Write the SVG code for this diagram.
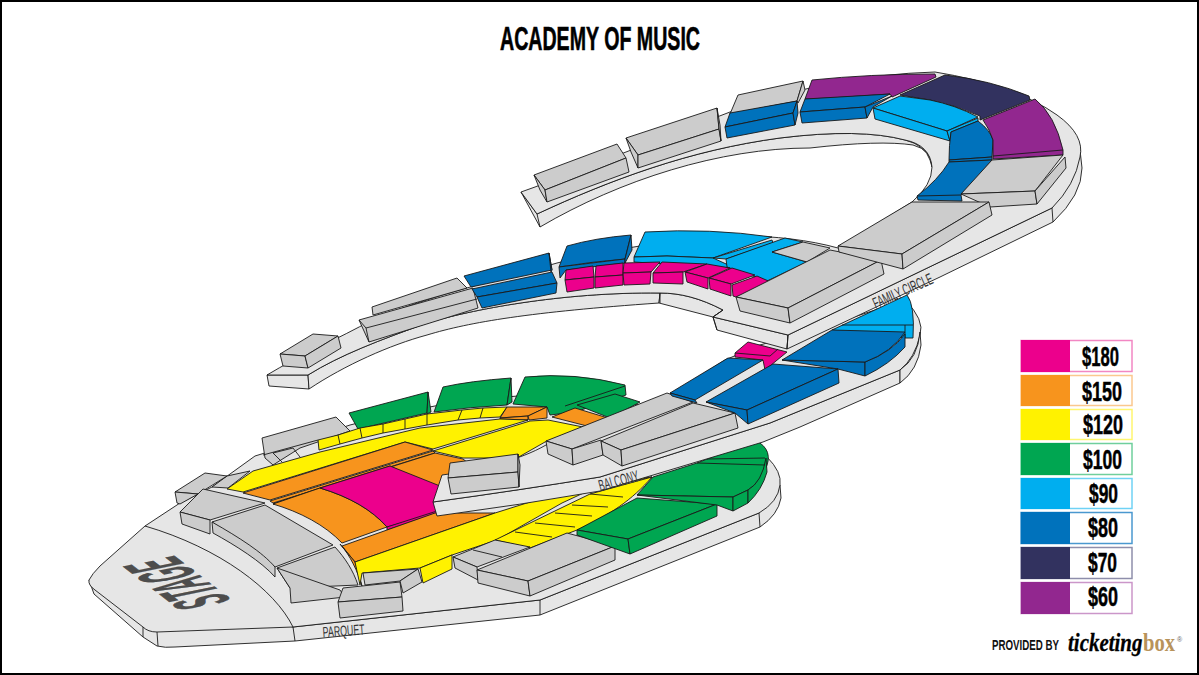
<svg xmlns="http://www.w3.org/2000/svg" width="1199" height="675" viewBox="0 0 1199 675">
<style>
path,polygon{stroke:#1a1a1a;stroke-width:.9;stroke-linejoin:round}
.fl{fill:#e6e6e6}.gr{fill:#ccc}.m{fill:#ec008c}.o{fill:#f7941d}.y{fill:#fff200}.g{fill:#00a651}.c{fill:#00aeef}.b{fill:#0072bc}.n{fill:#32325f}.p{fill:#92278f}
.ln{fill:none}
.lab{font-family:"Liberation Sans Narrow","Liberation Sans",Arial,sans-serif;fill:#333;text-anchor:middle}
.pr{font-family:"Liberation Sans Narrow","Liberation Sans",Arial,sans-serif;font-weight:700;font-size:28px;fill:#000;stroke:#000;stroke-width:.5}
rect.k{stroke-width:1.5}
</style>
<rect x="1" y="1" width="1197" height="673" fill="#fff" stroke="#000" stroke-width="2"/>
<text x="500" y="50" font-family="'Liberation Sans Narrow','Liberation Sans',Arial,sans-serif" font-weight="700" font-size="34" textLength="200" lengthAdjust="spacingAndGlyphs" fill="#000" stroke="#000" stroke-width=".6">ACADEMY OF MUSIC</text>

<g id="parquet">
<path class="fl" d="M89,580 L94,594 L143,637 L157,646 Q165,648 175,647 L295,641 L540,615 L760,527 Q778,515 781,498 L780,485 L759,513 L540,600 L293,627 Z"/>
<path class="fl" d="M89,580 Q92,574 100,566 L145,526 L180,503 L212,487 L255,456 L268,452 L350,425 Q440,400 530,395 Q680,395 767,457 Q782,472 780,485 Q778,502 759,513 L540,600 L293,627 L157,632 Q148,632 143,627 L95,590 Q88,585 89,580 Z"/>
<path class="ln" d="M145,526 C220,548 275,590 293,627 M293,627 L295,641 M143,627 L143,637 M157,632 L158,646 M759,513 L760,527 M540,600 L540,615"/>
<g id="parquet-back">
<path class="gr" d="M262,438 L336,417 L350,431 L300,448 L273,465 L265,458 Z"/>
<path class="ln" d="M263,455 L318,440 M273,453 L293,448 L300,457 M273,453 L282,462"/>
<polygon class="g" points="349,413 428,392 427,413 358,429"/>
<polygon class="g" points="428,392 431,412 427,414"/>
<path class="g" d="M443,387 Q470,381 511,378 L507,405 Q470,407 434,412 Z"/>
<polygon class="g" points="511,378 512,402 507,405"/>
<path class="g" d="M525,377 Q575,372 625,385 L626,395 L575,412 L550,415 L547,407 L513,404 Z"/>
<polygon class="g" points="577,405 615,394 640,402 610,418"/>
<path class="ln" d="M565,406 L625,386"/>
<polygon class="o" points="552,417 575,408 608,418 587,426"/>
</g>
<g id="parquet-row">
<path class="y" d="M318,440 L338,435 L360,428 L383,424 L405,419 L427,414 L462,410 L483,408 L507,407 L500,417 L480,418 L458,420 L427,425 L405,429 L383,433 L362,438 L340,444 L319,450 Z"/>
<path class="ln" d="M338,435 L340,444 M360,428 L362,438 M383,424 L383,433 M405,419 L405,429 M427,414 L427,425 M462,410 L458,420 M483,408 L480,418"/>
<polygon class="o" points="500,418 507,407 547,407 528,416"/>
<polygon class="o" points="500,418 528,416 528,420 500,419"/>
<polygon class="o" points="528,416 547,407 547,418 529,420"/>
</g>
<g id="parquet-main">
<polygon class="gr" points="212,487 227,476 250,471 228,488"/>
<path class="y" d="M227,489 L253,471 L320,452 L420,428 L500,419 L528,420 L433,449 L405,442 L243,492 Z"/>
<polygon class="y" points="433,451 530,421 548,420 583,427 545,442 517,458 463,458"/>
<path class="o" d="M243,493 L405,442 L433,450 L270,500 Z"/>
<polygon class="o" points="270,501 433,451 435,453 273,503"/>
<path class="o" d="M273,504 L435,453 L463,459 L490,480 L440,490 L390,466 L320,488 Z"/>
<path class="o" d="M273,504 L320,488 C350,497 372,510 387,527 L342,543 C325,525 300,512 273,504 Z"/>
<path class="m" d="M320,488 L390,466 L445,488 L440,512 L387,527 C372,510 350,497 320,488 Z"/>
<polygon class="m" points="387,527 437,511 437,513 387,530"/>
<polygon class="o" points="342,546 387,530 435,513 495,513 355,562"/>
<path class="o" d="M340,544 C350,555 358,572 362,586 L355,562 Z"/>
<path class="y" d="M355,562 L495,513 L600,480 L652,477 L590,490 L562,503 L497,540 L452,555 L420,568 L362,573 L360,585 Z"/>
<polygon class="y" points="420,568 452,555 452,569 423,583"/>
<path class="y" d="M652,477 C632,500 610,515 577,530 L530,548 L495,540 L590,494 Z"/>
<path class="ln" d="M590,494 L623,497 M572,505 L608,507 M555,513 L592,516 M535,523 L575,527 M515,532 L552,537"/>
</g>
<g id="parquet-seats">
<polygon class="gr" points="175,492 205,473 227,476 198,494"/>
<polygon class="gr" points="175,492 198,494 180,504 177,503"/>
<polygon class="gr" points="180,512 203,489 265,503 210,520"/>
<polygon class="gr" points="180,512 210,520 210,534 182,524"/>
<polygon class="gr" points="212,522 265,505 333,545 275,567"/>
<path class="gr" d="M212,522 C240,538 262,552 275,567 L275,577 C262,562 235,545 213,533 Z"/>
<path class="gr" d="M277,568 L335,547 C345,558 353,570 358,585 L290,588 Z"/>
<polygon class="gr" points="277,568 290,588 291,603 345,597 340,590"/>
<polygon class="gr" points="363,573 418,569 400,581 365,585"/>
<polygon class="gr" points="418,569 422,582 403,593 400,581"/>
<polygon class="gr" points="338,602 343,588 400,582 402,597"/>
<polygon class="gr" points="338,602 402,597 403,611 340,618"/>
<polygon class="gr" points="453,557 495,540 530,547 477,567"/>
<polygon class="gr" points="453,557 477,567 478,580 455,568"/>
<path class="ln" d="M473,550 L502,557"/>
<polygon class="gr" points="477,570 567,533 615,546 528,581"/>
<polygon class="gr" points="477,570 528,581 530,596 478,583"/>
<polygon class="gr" points="528,581 615,546 615,560 530,596"/>
<polygon class="g" points="577,530 637,498 717,504 628,539"/>
<polygon class="g" points="577,530 628,539 630,554 577,535"/>
<polygon class="g" points="628,539 717,504 717,516 630,554"/>
<path class="g" d="M637,495 L653,477 L697,463 L755,440 Q775,450 765,470 Q760,482 748,490 L733,497 Z"/>
<polygon class="g" points="637,495 733,497 733,511 717,505"/>
<polygon class="g" points="733,497 748,490 748,503 733,511"/>
<path class="g" d="M748,490 Q762,482 766,458 L767,472 Q762,490 748,503 Z"/>
<path class="ln" d="M707,459 L765,458 M697,463 L765,465"/>
</g>
</g>

<g id="balcony">
<path class="fl" d="M437,516 L433,502 Q520,490 600,477 L770,423 L900,370 L900,383 L800,427 L763,442 L600,491 Q520,505 437,516 Z"/>
<path class="fl" d="M433,502 L442,475 C480,470 520,460 546,445 L670,395 L725,360 L760,345 L830,325 L905,300 Q925,320 920,335 Q915,358 900,370 L770,423 L600,477 Q520,490 433,502 Z"/>
<path class="fl" d="M900,370 Q918,358 920,332 L921,345 Q918,370 900,383 Z"/>
<path class="c" d="M832,330 L907,295 Q915,305 913,338 L905,338 Z"/>
<path class="ln" d="M842,325 L913,325 M905,325 L905,338"/>
<path class="b" d="M782,360 L865,362 L865,376 L838,369 Z"/>
<path class="b" d="M865,362 Q892,352 905,334 L905,347 Q890,364 865,376 Z"/>
<path class="b" d="M782,360 L832,330 L905,332 Q892,352 865,362 Z"/>
<polygon class="m" points="735,353 748,342 787,352 765,370 763,360 735,357"/>
<path class="ln" d="M735,353 L770,356 L778,349"/>
<polygon class="gr" points="450,463 518,454 518,472 448,478"/>
<polygon class="gr" points="448,478 518,472 519,487 451,494"/>
<polygon class="gr" points="518,454 520,465 519,487 518,472"/>
<polygon class="gr" points="546,441 667,393 693,402 572,449"/>
<polygon class="gr" points="546,441 572,449 573,465 548,454"/>
<polygon class="gr" points="572,449 601,440 603,455 573,465"/>
<polygon class="gr" points="601,441 693,403 735,413 621,450"/>
<polygon class="gr" points="601,441 621,450 622,466 603,455"/>
<polygon class="gr" points="621,450 735,413 738,428 622,466"/>
<polygon class="b" points="670,393 728,358 763,360 695,400"/>
<polygon class="b" points="670,393 695,400 697,403 672,396"/>
<polygon class="b" points="706,402 773,364 838,369 747,410"/>
<polygon class="b" points="706,402 747,410 748,424 735,413"/>
<polygon class="b" points="747,410 838,369 839,383 748,424"/>
<text class="lab" transform="translate(620,486) rotate(-15)" font-size="16" textLength="41" lengthAdjust="spacingAndGlyphs">BALCONY</text>
</g>

<g id="family-circle">
<polygon class="fl" points="267,375 269,386 309,389 308,375"/>
<path class="fl" d="M308,375 C340,355 380,340 427,323 C470,310 560,292 660,293 L659,303 C530,312 470,322 427,335 C390,345 345,365 309,389 Z"/>
<path class="fl" d="M660,293 C680,293 700,298 723,310 L713,317 L659,303 Z"/>
<polygon class="fl" points="713,317 717,330 787,349 788,335"/>
<path class="fl" d="M788,335 L787,349 L940,277 L1053,222 Q1082,195 1082,168 L1080,150 L1052,208 Z"/>
<path class="fl" d="M521,192 L540,227 C620,180 720,148 810,148 Q880,140 913,145 Q932,150 932,167 L930,160 Q925,145 905,140 Q860,128 780,138 C690,150 610,180 537,214 Z"/>
<path class="fl" d="M267,375 C300,355 340,338 372,320 C430,295 500,280 557,263 C590,255 615,250 640,246 C700,232 780,232 838,248 L912,202 Q932,185 932,167 Q930,145 905,140 Q860,128 780,138 C690,150 610,180 537,214 L521,192 L535,187 L730,112 Q830,75 935,72 Q1015,85 1057,115 Q1085,135 1080,157 Q1075,185 1052,208 L788,335 L713,317 L723,310 C700,298 680,293 660,293 C560,292 470,310 427,323 C380,340 340,355 308,375 Z"/>
<path class="ln" d="M1052,208 L1053,222 M660,293 L660,303 M723,310 L713,317 M788,335 L787,349 M713,317 L717,330 M537,214 L540,227"/>
<g id="family-mid">
<polygon class="gr" points="280,354 313,334 338,336 305,356"/>
<polygon class="gr" points="280,354 305,356 308,368 283,366"/>
<polygon class="gr" points="305,356 338,336 341,348 308,368"/>
<polygon class="gr" points="372,307 457,278 467,288 373,315"/>
<polygon class="gr" points="359,320 473,288 478,308 369,342"/>
<path class="ln" d="M366,328 L477,299 M359,320 L366,328 L369,342"/>
<polygon class="b" points="464,276 549,253 552,270 471,287"/>
<polygon class="b" points="549,253 551,272 552,270"/>
<polygon class="b" points="472,289 552,272 557,283 477,297"/>
<polygon class="b" points="477,297 557,283 556,293 482,308"/>
<path class="b" d="M567,246 Q595,238 631,235 L625,259 Q590,262 559,267 Z"/>
<polygon class="b" points="559,267 625,259 625,263 566,270 560,278"/>
<polygon class="b" points="631,235 632,250 625,263 625,259"/>
<path class="c" d="M645,232 Q710,228 772,237 L713,258 L667,256 L634,257 Z"/>
<polygon class="c" points="634,257 667,256 713,258 735,268 634,262"/>
<polygon class="c" points="713,258 772,240 773,243 726,259"/>
<path class="c" d="M726,259 L785,238 L803,242 L772,252 L807,262 L767,281 L727,267 Z"/>
<polygon class="gr" points="772,252 803,242 830,248 807,262"/>
<polygon class="m" points="566,270 593,266 594,277 565,280"/>
<polygon class="m" points="565,280 594,277 594,288 567,292"/>
<polygon class="m" points="596,266 623,263 623,275 595,277"/>
<polygon class="m" points="595,277 623,275 623,285 595,288"/>
<polygon class="m" points="624,263 660,262 651,272 623,273"/>
<polygon class="m" points="623,273 651,272 650,284 624,285"/>
<polygon class="m" points="662,262 707,264 683,272 653,273"/>
<polygon class="m" points="653,273 683,272 683,284 653,283"/>
<polygon class="m" points="685,272 707,264 730,268 708,278"/>
<polygon class="m" points="685,272 708,278 708,289 687,282"/>
<polygon class="m" points="709,278 732,268 755,275 731,284"/>
<polygon class="m" points="709,278 731,284 731,296 710,289"/>
<polygon class="m" points="732,285 757,276 773,283 736,297 733,296"/>
<polygon class="gr" points="736,297 830,250 881,260 788,308"/>
<polygon class="gr" points="736,297 788,308 790,323 740,311"/>
<polygon class="gr" points="788,308 881,260 884,274 790,323"/>
</g>
<g id="family-upper">
<polygon class="gr" points="534,175 617,144 626,158 545,190"/>
<polygon class="gr" points="534,175 545,190 547,202 540,190"/>
<polygon class="gr" points="545,190 626,158 629,172 547,202"/>
<polygon class="gr" points="626,138 717,108 719,129 638,155"/>
<polygon class="gr" points="626,138 638,155 638,168 631,152"/>
<polygon class="gr" points="638,155 719,129 721,141 638,168"/>
<polygon class="gr" points="717,108 720,125 721,141 719,129"/>
<polygon class="gr" points="738,95 803,81 797,101 730,114"/>
<polygon class="gr" points="803,81 805,90 798,103 797,101"/>
<polygon class="b" points="730,113 797,101 793,113 725,127"/>
<polygon class="b" points="725,127 793,113 795,125 727,138"/>
<polygon class="b" points="797,101 798,113 795,125 793,113"/>
<path class="p" d="M812,80 Q870,74 935,74 L936,77 L892,97 L890,94 L830,98 L805,99 Z"/>
<polygon class="b" points="805,99 890,94 865,107 800,112"/>
<polygon class="b" points="800,112 865,107 867,118 802,123"/>
<polygon class="b" points="865,107 892,96 873,107 867,118"/>
<path class="n" d="M900,95 L945,75 Q990,80 1029,96 L1030,100 L980,120 L980,116 Q955,105 930,100 Z"/>
<path class="c" d="M873,108 L900,96 L930,100 Q955,105 978,117 L947,131 Z"/>
<polygon class="c" points="873,108 947,131 950,141 875,119"/>
<polygon class="c" points="947,131 978,118 978,121 951,132 950,141"/>
<path class="b" d="M951,132 L978,121 Q990,130 993,140 L992,157 L949,160 Q949,145 951,132 Z"/>
<polygon class="b" points="949,160 992,157 992,160 949,162"/>
<path class="b" d="M949,162 L992,160 Q975,180 961,195 L962,201 L918,200 L917,196 Q938,180 949,162 Z"/>
<path class="ln" d="M917,196 L961,195"/>
<path class="p" d="M983,120 L1035,99 Q1055,115 1063,150 L1063,155 L993,159 L993,140 Q990,130 983,120 Z"/>
<path class="ln" d="M993,156 L1063,150"/>
<polygon class="gr" points="961,194 992,160 1063,155 1035,191"/>
<polygon class="gr" points="961,194 1035,191 1037,204 990,207"/>
<polygon class="gr" points="1035,191 1065,157 1066,168 1037,204"/>
<polygon class="gr" points="838,246 912,202 989,202 902,254"/>
<polygon class="gr" points="838,246 902,254 903,269 839,252"/>
<polygon class="gr" points="902,254 989,202 992,215 903,269"/>
</g>
<text class="lab" transform="translate(905,296) rotate(-24)" font-size="16" textLength="64" lengthAdjust="spacingAndGlyphs">FAMILY CIRCLE</text>
</g>

<text class="lab" font-size="40" font-weight="700" transform="matrix(-0.44,-0.34,1.86,-0.38,203,578)" style="fill:#4d4d4d;stroke:#4d4d4d;stroke-width:.5">STAGE</text>
<text class="lab" transform="translate(344,636) rotate(-4)" font-size="15" textLength="42" lengthAdjust="spacingAndGlyphs">PARQUET</text>

<g id="legend">
<rect class="k" x="1021" y="340.500" width="111" height="31" fill="#fff" stroke="#f287c3"/><rect x="1021" y="340" width="49" height="32" fill="#ec008c"/>
<text class="pr" x="1082" y="366" textLength="37" lengthAdjust="spacingAndGlyphs">$180</text>
<rect class="k" x="1021" y="375.500" width="111" height="30" fill="#fff" stroke="#fbc88e"/><rect x="1021" y="375" width="49" height="31" fill="#f7941d"/>
<text class="pr" x="1082" y="401" textLength="40" lengthAdjust="spacingAndGlyphs">$150</text>
<rect class="k" x="1021" y="409.500" width="111" height="30" fill="#fff" stroke="#fff66f"/><rect x="1021" y="409" width="49" height="31" fill="#fff200"/>
<text class="pr" x="1083" y="434" textLength="40" lengthAdjust="spacingAndGlyphs">$120</text>
<rect class="k" x="1021" y="443.500" width="111" height="31" fill="#fff" stroke="#6fcf9c"/><rect x="1021" y="443" width="49" height="32" fill="#00a651"/>
<text class="pr" x="1083" y="469" textLength="39" lengthAdjust="spacingAndGlyphs">$100</text>
<rect class="k" x="1021" y="478.500" width="111" height="30" fill="#fff" stroke="#6fd2f5"/><rect x="1021" y="478" width="49" height="31" fill="#00aeef"/>
<text class="pr" x="1089" y="503" textLength="29" lengthAdjust="spacingAndGlyphs">$90</text>
<rect class="k" x="1021" y="512.500" width="111" height="31" fill="#fff" stroke="#4a98cf"/><rect x="1021" y="512" width="49" height="32" fill="#0072bc"/>
<text class="pr" x="1088" y="537" textLength="30" lengthAdjust="spacingAndGlyphs">$80</text>
<rect class="k" x="1021" y="547.500" width="111" height="31" fill="#fff" stroke="#8e8eab"/><rect x="1021" y="547" width="49" height="32" fill="#32325f"/>
<text class="pr" x="1088" y="572" textLength="29" lengthAdjust="spacingAndGlyphs">$70</text>
<rect class="k" x="1021" y="582.500" width="111" height="31" fill="#fff" stroke="#cb96c9"/><rect x="1021" y="582" width="49" height="32" fill="#92278f"/>
<text class="pr" x="1088" y="606" textLength="30" lengthAdjust="spacingAndGlyphs">$60</text>
</g>
<g id="credit">
<text transform="translate(992,650) scale(.67,1)" font-family="'Liberation Sans',Arial,sans-serif" font-weight="700" font-size="15" textLength="100" lengthAdjust="spacingAndGlyphs" fill="#111">PROVIDED BY</text>
<text transform="translate(1068,651) scale(.8,1)" font-family="'Liberation Serif',serif" font-weight="700" font-style="italic" font-size="26" textLength="93" lengthAdjust="spacingAndGlyphs" fill="#000" stroke="#000" stroke-width=".3">ticketing</text>
<text transform="translate(1143,651) scale(.8,1)" font-family="'Liberation Serif',serif" font-weight="700" font-size="26" textLength="40" lengthAdjust="spacingAndGlyphs" fill="#b8935a">box</text>
<text x="1177" y="642" font-family="'Liberation Sans',sans-serif" font-size="7" fill="#666">®</text>
</g>
</svg>
